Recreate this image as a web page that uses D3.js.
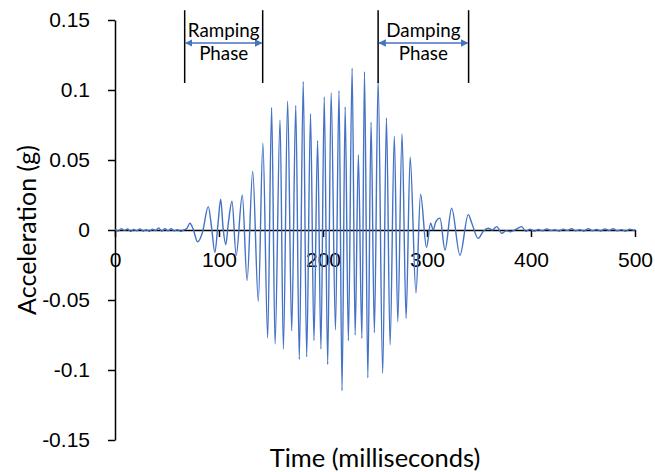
<!DOCTYPE html>
<html>
<head>
<meta charset="utf-8">
<script src="https://cdn.jsdelivr.net/npm/d3@7"></script>
<style>
  body { margin: 0; background: #fff; }
  svg { display: block; font-family: Lato, "Open Sans", sans-serif; }
</style>
</head>
<body>
<svg id="chart" width="655" height="472"></svg>
<script>
// accelerometer trace (peaks / troughs + quiet noise)
const timeMs = [
  0, 3, 6, 9, 12, 15, 18, 21, 24, 27, 30, 33, 36, 39, 42, 45, 48, 51, 54, 57, 60, 63, 66, 69,
  72, 75, 79.5, 84, 89.7, 93, 96, 99, 101.6, 104, 106.5, 109, 112.5, 116.5, 122.4, 127,
  132.4, 137.8, 142.2, 146.8, 150.6, 153.9, 158.7, 161.9, 166, 169.9, 173.8, 177.2,
  181, 184.3, 188, 191.3, 194.8, 198, 201.2, 204.5, 207.8, 212, 215.4, 218.3, 221.3,
  224.4, 228, 230.9, 234, 237.4, 239.9, 243.1, 246.2, 249.4, 253, 257.4, 261, 264.5,
  268.6, 271.9, 276, 279.9, 283.8, 289.4, 293.8, 299.5, 303.5, 306, 308.5, 312.5,
  317.3, 323.7, 331.7, 339.7, 343, 349.3, 354, 359, 363, 367, 372, 376, 380, 385,
  391, 395, 399, 403, 407, 411, 415, 419, 423, 427, 431, 435, 439, 443, 447, 451,
  455, 459, 463, 467, 471, 475, 479, 483, 487, 491, 495, 499, 500
];
const accelG = [
  0.0005, -0.0008, 0.0010, -0.0003, 0.0007, -0.0010, 0.0004, -0.0005, 0.0008, -0.0007,
  0.0002, -0.0009, 0.0006, -0.0004, 0.0015, -0.0008, 0.0009, -0.0006, 0.0010, -0.0007,
  0.0003, -0.0010, 0.0000, 0.0010,
  0.0048, 0.0010, -0.0085, -0.0020, 0.0167, 0.0010, -0.0160, 0.0040, 0.0220, 0.0010,
  -0.0105, 0.0050, 0.0205, -0.0180, 0.0250, -0.0360,
  0.0420, -0.0510, 0.0620, -0.0770, 0.0875, -0.0814, 0.0786, -0.0850, 0.0920, -0.0720,
  0.0890, -0.0924, 0.1060, -0.0905, 0.0830, -0.0790, 0.0640, -0.0850, 0.0950, -0.0960,
  0.0980, -0.0714, 0.0995, -0.1148, 0.0880, -0.0790, 0.1155, -0.0750, 0.0536, -0.0774,
  0.1130, -0.1055, 0.0770, -0.0733, 0.1070, -0.1024, 0.0800, -0.0820, 0.0670, -0.0655,
  0.0686, -0.0630, 0.0520, -0.0450, 0.0255, -0.0124, 0.0048, 0.0000, 0.0060, 0.0085,
  -0.0143, 0.0155, -0.0180, 0.0110, 0.0050, -0.0060, -0.0010, 0.0012, 0.0000, 0.0024,
  -0.0024, -0.0005, -0.0012, 0.0002, 0.0024, -0.0010,
  0.0006, -0.0008, 0.0004, -0.0006, 0.0008, -0.0004, 0.0002, -0.0008, 0.0006, -0.0003,
  0.0009, -0.0006, 0.0003, -0.0008, 0.0010, -0.0005, 0.0004, -0.0007, 0.0008, -0.0004,
  0.0010, -0.0006, 0.0003, -0.0008, 0.0006, -0.0002, 0.0003
];

const xTicks = [0, 100, 200, 300, 400, 500];
const yTicks = [-0.15, -0.1, -0.05, 0, 0.05, 0.1, 0.15];

const phaseNames = ['Ramping', 'Damping'];
const phaseStart = [67, 253];
const phaseEnd = [142, 340];

const blue = '#4472c4';

let svg = d3.select('#chart');

let x = d3.scaleLinear().domain([0, 500]).range([115, 635]);
let y = d3.scaleLinear().domain([-0.15, 0.15]).range([440, 20]);

// y axis (plain hyphen minus like the original)
let yAxis = svg.append('g')
  .attr('transform', 'translate(115,0)')
  .call(d3.axisLeft(y).tickValues(yTicks).tickSize(7).tickSizeOuter(0).tickPadding(18)
    .tickFormat((d) => (String(+d.toFixed(2)))));

// x axis sits on the zero line
let xAxis = svg.append('g')
  .attr('transform', 'translate(0,' + y(0) + ')')
  .call(d3.axisBottom(x).tickValues(xTicks).tickSize(7).tickSizeOuter(0).tickPadding(15));

[yAxis, xAxis].forEach(function (g) {
  g.select('.domain').attr('stroke', '#000').attr('stroke-width', 1.5);
  g.selectAll('.tick line').attr('stroke', '#000').attr('stroke-width', 1.5);
  g.selectAll('.tick text').attr('fill', '#000').attr('font-size', 21);
});

// the trace
let line = d3.line()
  .x((d, i) => (x(timeMs[i])))
  .y((d) => (y(d)))
  .curve(d3.curveMonotoneX);

svg.append('path')
  .datum(accelG)
  .attr('d', line)
  .attr('fill', 'none')
  .attr('stroke', blue)
  .attr('stroke-width', 1.4)
  .attr('stroke-linejoin', 'round');

// axis titles
svg.append('text')
  .attr('transform', 'translate(36,' + y(0) + ') rotate(-90)')
  .attr('text-anchor', 'middle')
  .attr('font-size', 25)
  .text('Acceleration (g)');

svg.append('text')
  .attr('x', x(250))
  .attr('y', 467)
  .attr('text-anchor', 'middle')
  .attr('font-size', 25.5)
  .text('Time (milliseconds)');

// phase markers
svg.append('defs').append('marker')
  .attr('id', 'head')
  .attr('viewBox', '0 0 10 10')
  .attr('refX', 9).attr('refY', 5)
  .attr('markerWidth', 5).attr('markerHeight', 5)
  .attr('orient', 'auto-start-reverse')
  .append('path')
  .attr('d', 'M0,0L10,5L0,10z')
  .attr('fill', blue);

let arrowY = 43;

phaseNames.forEach(function (name, i) {
  let g = svg.append('g');
  [phaseStart[i], phaseEnd[i]].forEach(function (t) {
    g.append('line')
      .attr('x1', x(t)).attr('x2', x(t))
      .attr('y1', y(0.157)).attr('y2', y(0.105))
      .attr('stroke', '#000')
      .attr('stroke-width', 1.5);
  });
  g.append('line')
    .attr('x1', x(phaseStart[i]) + 1).attr('x2', x(phaseEnd[i]) - 1)
    .attr('y1', arrowY).attr('y2', arrowY)
    .attr('stroke', blue)
    .attr('stroke-width', 1.5)
    .attr('marker-start', 'url(#head)')
    .attr('marker-end', 'url(#head)');
  let cx = (x(phaseStart[i]) + x(phaseEnd[i])) / 2;
  g.append('text')
    .attr('x', cx).attr('y', arrowY - 6)
    .attr('text-anchor', 'middle')
    .attr('font-size', 18.8)
    .text(name);
  g.append('text')
    .attr('x', cx).attr('y', arrowY + 17)
    .attr('text-anchor', 'middle')
    .attr('font-size', 18.8)
    .text('Phase');
});
</script>
</body>
</html>
